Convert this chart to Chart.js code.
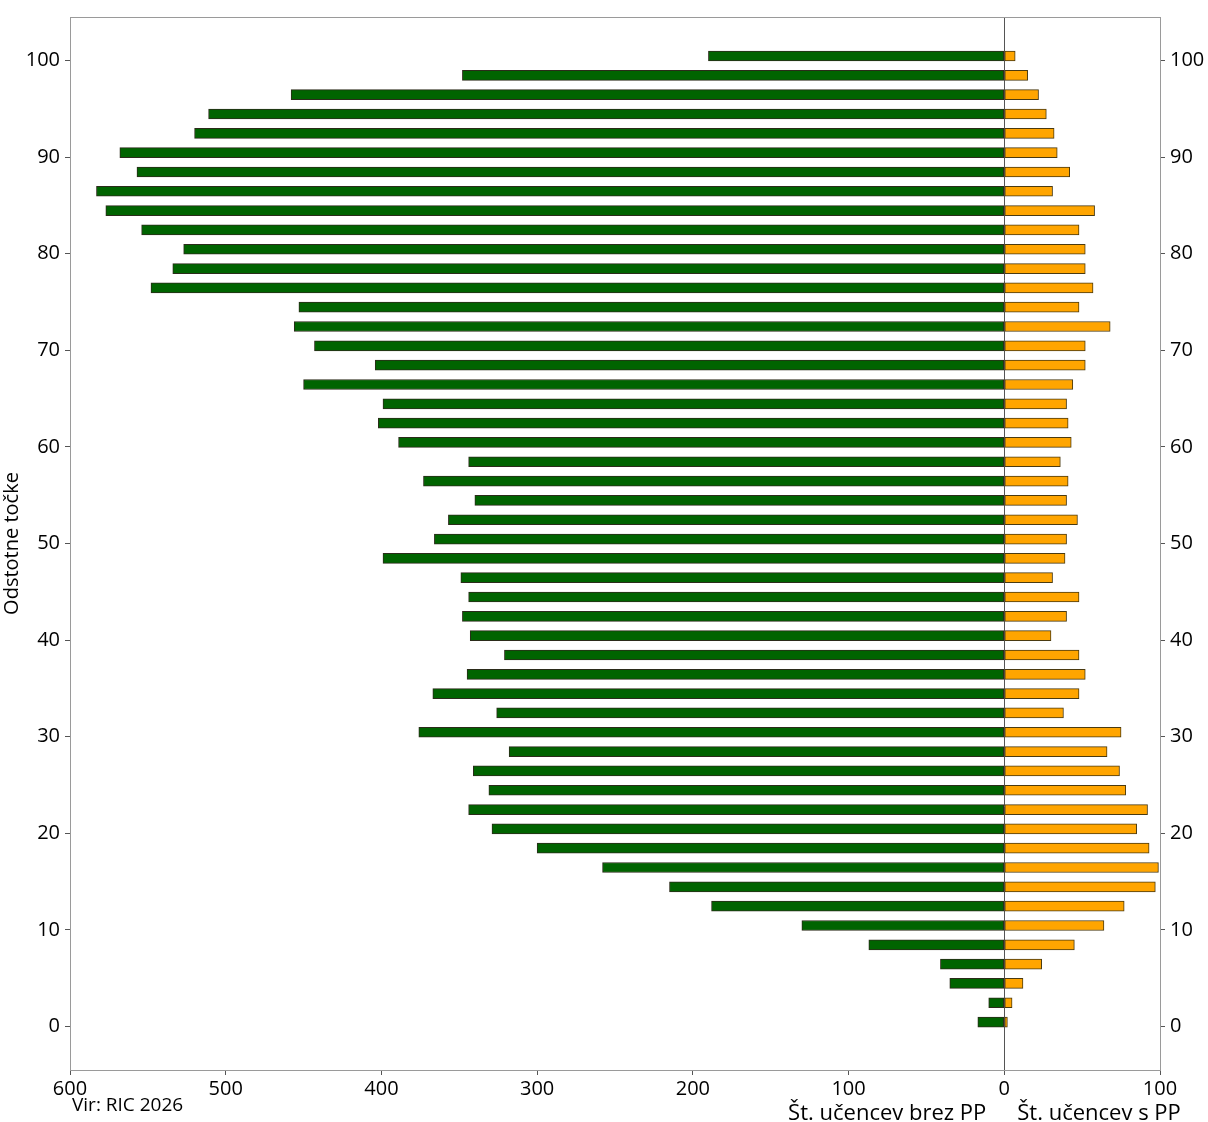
<!DOCTYPE html>
<html>
<head>
<meta charset="utf-8">
<script src="https://cdn.jsdelivr.net/npm/chart.js@4/dist/chart.umd.min.js"></script>
<style>
  html, body { margin: 0; padding: 0; background: #fff; }
  #wrap { width: 1208px; height: 1122px; }
</style>
</head>
<body>
<div id="wrap"><canvas id="pyramid"></canvas></div>
<script>
// odstotne točke (every 2 points)
const points = [100, 98, 96, 94, 92, 90, 88, 86, 84, 82, 80, 78, 76, 74, 72, 70, 68, 66, 64, 62, 60,
  58, 56, 54, 52, 50, 48, 46, 44, 42, 40, 38, 36, 34, 32, 30, 28, 26, 24, 22, 20,
  18, 16, 14, 12, 10, 8, 6, 4, 2, 0];

const brezPP = [190, 348, 458, 511, 520, 568, 557, 583, 577, 554, 527, 534, 548, 453, 456, 443, 404, 450, 399, 402, 389,
  344, 373, 340, 357, 366, 399, 349, 344, 348, 343, 321, 345, 367, 326, 376, 318, 341, 331, 344, 329,
  300, 258, 215, 188, 130, 87, 41, 35, 10, 17];

const sPP = [7, 15, 22, 27, 32, 34, 42, 31, 58, 48, 52, 52, 57, 48, 68, 52, 52, 44, 40, 41, 43,
  36, 41, 40, 47, 40, 39, 31, 48, 40, 30, 48, 52, 48, 38, 75, 66, 74, 78, 92, 85,
  93, 99, 97, 77, 64, 45, 24, 12, 5, 2];

const yTicks = [0, 10, 20, 30, 40, 50, 60, 70, 80, 90, 100];
const xTicks = [-600, -500, -400, -300, -200, -100, 0, 100];

const xLabels = ['Št. učencev brez PP', 'Št. učencev s PP'];
const sourceNote = 'Vir: RIC 2026';
const yTitle = 'Odstotne točke';

// bars sit a little above their tick in the original
const binShift = 0.46;

const FONT = '"Open Sans", "DejaVu Sans", sans-serif';

const frame = {
  id: 'frame',
  afterDraw(chart) {
    const { ctx, chartArea: a, scales } = chart;
    ctx.save();
    ctx.strokeStyle = '#9a9a9a';
    ctx.lineWidth = 1;
    ctx.strokeRect(a.left + 0.5, a.top + 0.5, a.right - a.left, a.bottom - a.top);

    // labels under the axis
    const zero = scales.x.getPixelForValue(0);
    const y = a.bottom + 44;
    ctx.fillStyle = '#000';
    ctx.font = '22px ' + FONT;
    ctx.textBaseline = 'middle';
    ctx.textAlign = 'right';
    ctx.fillText(xLabels[0], zero - 18, y);
    ctx.textAlign = 'left';
    ctx.fillText(xLabels[1], zero + 13, y);
    ctx.font = '19px ' + FONT;
    ctx.fillText(sourceNote, a.left + 2, a.bottom + 36);
    ctx.restore();
  }
};

const setTicks = list => s => { s.ticks = list.map(v => ({ value: v })); };

const yAxis = (pos, width) => ({
  type: 'linear',
  position: pos,
  min: -4.5,
  max: 104.5,
  offset: false,
  afterFit: s => { s.width = width; },
  afterBuildTicks: setTicks(yTicks),
  border: { display: false },
  grid: { drawOnChartArea: false, tickColor: '#555', tickLength: 5, offset: false },
  ticks: {
    color: '#000',
    padding: 5,
    font: { size: 20, family: FONT }
  }
});

const y = yAxis('left', 70);
y.title = {
  display: true,
  text: yTitle,
  color: '#000',
  padding: 0,
  font: { size: 20, family: FONT }
};

new Chart(document.getElementById('pyramid'), {
  type: 'bar',
  data: {
    datasets: [
      {
        label: xLabels[0],
        data: points.map((p, i) => ({ x: -brezPP[i], y: p + binShift })),
        backgroundColor: '#006400',
        borderColor: '#2b2b1a',
        borderWidth: 1,
        borderSkipped: false,
        barThickness: 10,
        grouped: false
      },
      {
        label: xLabels[1],
        data: points.map((p, i) => ({ x: sPP[i], y: p + binShift })),
        backgroundColor: '#FFA500',
        borderColor: '#4a3a10',
        borderWidth: 1,
        borderSkipped: false,
        barThickness: 10,
        grouped: false
      }
    ]
  },
  options: {
    indexAxis: 'y',
    responsive: true,
    maintainAspectRatio: false,
    animation: false,
    layout: { padding: { top: 15, left: 0, right: 0, bottom: 0 } },
    plugins: {
      legend: { display: false },
      tooltip: { enabled: false }
    },
    scales: {
      x: {
        type: 'linear',
        min: -600,
        max: 100,
        afterFit: s => { s.height = 52; },
        afterBuildTicks: setTicks(xTicks),
        border: { display: false },
        grid: {
          color: c => c.tick && c.tick.value === 0 ? '#555' : 'transparent',
          tickColor: '#555',
          tickLength: 5,
          lineWidth: 1
        },
        ticks: {
          color: '#000',
          padding: 2,
          font: { size: 20, family: FONT },
          callback: v => Math.abs(v)
        }
      },
      y: y,
      y2: yAxis('right', 48)
    }
  },
  plugins: [frame]
});
</script>
</body>
</html>
